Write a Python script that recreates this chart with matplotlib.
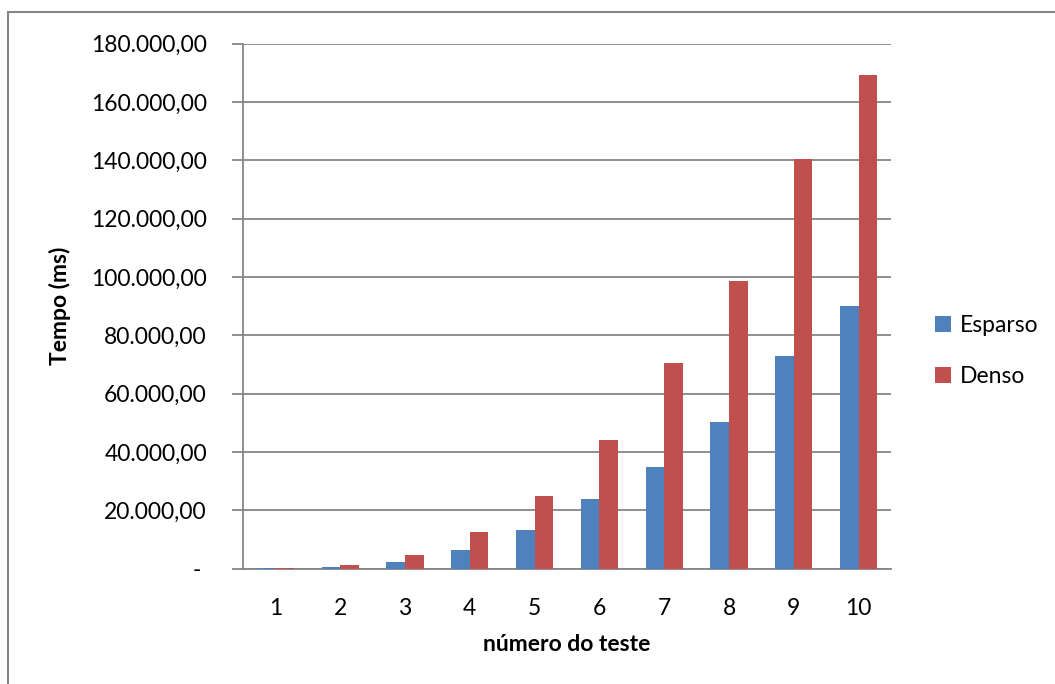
import matplotlib
matplotlib.use("Agg")
import matplotlib.pyplot as plt
from matplotlib.patches import Rectangle
from matplotlib.ticker import FuncFormatter, MultipleLocator
import numpy as np

plt.rcParams['font.family'] = ['Lato', 'DejaVu Sans']

# Tempo de execução por teste (ms)
testes = [1, 2, 3, 4, 5, 6, 7, 8, 9, 10]
esparso = [10, 400, 2300, 6500, 13200, 23800, 34800, 50300, 72800, 90100]
denso = [30, 1100, 4500, 12500, 24800, 44000, 70300, 98500, 140500, 169200]
series_names = ["Esparso", "Denso"]
colors = ["#4F81BD", "#C0504D"]

W, H = 1055, 684
fig = plt.figure(figsize=(W / 100, H / 100), dpi=100)
fig.patch.set_facecolor("white")

# outer chart border (right and bottom run past the canvas)
fig.patches.append(Rectangle((8 / W, -0.1), 1.2, 1 - 12 / H + 0.1,
                             transform=fig.transFigure, fill=False,
                             edgecolor="#878787", linewidth=1.5))

ax = fig.add_axes([243 / W, 1 - 568.5 / H, (891 - 243) / W, (568.5 - 43.6) / H])

x = np.arange(len(testes)) + 1
bw = 1 / 3.5
ax.bar(x - bw / 2, esparso, width=bw, color=colors[0], label=series_names[0], zorder=3)
ax.bar(x + bw / 2, denso, width=bw, color=colors[1], label=series_names[1], zorder=3)

ax.set_xlim(0.5, len(testes) + 0.5)
ax.set_ylim(0, 180000)
ax.set_xticks(x)
ax.set_xticklabels([str(t) for t in testes])
ax.yaxis.set_major_locator(MultipleLocator(20000))


def fmt(v, pos):
    if abs(v) < 1e-9:
        return "- "
    s = f"{v:,.2f}"
    return s.replace(",", "X").replace(".", ",").replace("X", ".")


ax.yaxis.set_major_formatter(FuncFormatter(fmt))
ax.grid(axis="y", color="#868686", linewidth=1.3, zorder=0)
ax.set_axisbelow(True)

for side in ("top", "right"):
    ax.spines[side].set_visible(False)
for side in ("left", "bottom"):
    ax.spines[side].set_color("#868686")
    ax.spines[side].set_linewidth(1.3)

ax.tick_params(axis="y", length=8, width=1.3, color="#868686", pad=18,
               labelsize=16.5, labelcolor="black")
ax.tick_params(axis="x", length=0, pad=21, labelsize=16.5, labelcolor="black")

ax.set_ylabel("Tempo (ms)", fontsize=16.5, fontweight="bold", labelpad=14)
ax.set_xlabel("número do teste", fontsize=16.5, fontweight="bold", labelpad=11)

fig.legend(loc="center left", bbox_to_anchor=(926 / W, 1 - 351 / H),
           frameon=False, fontsize=16.5, handlelength=0.7, handleheight=0.7,
           handletextpad=0.4, labelspacing=1.3, borderaxespad=0)

fig.savefig("out.png", dpi=100, facecolor="white")
